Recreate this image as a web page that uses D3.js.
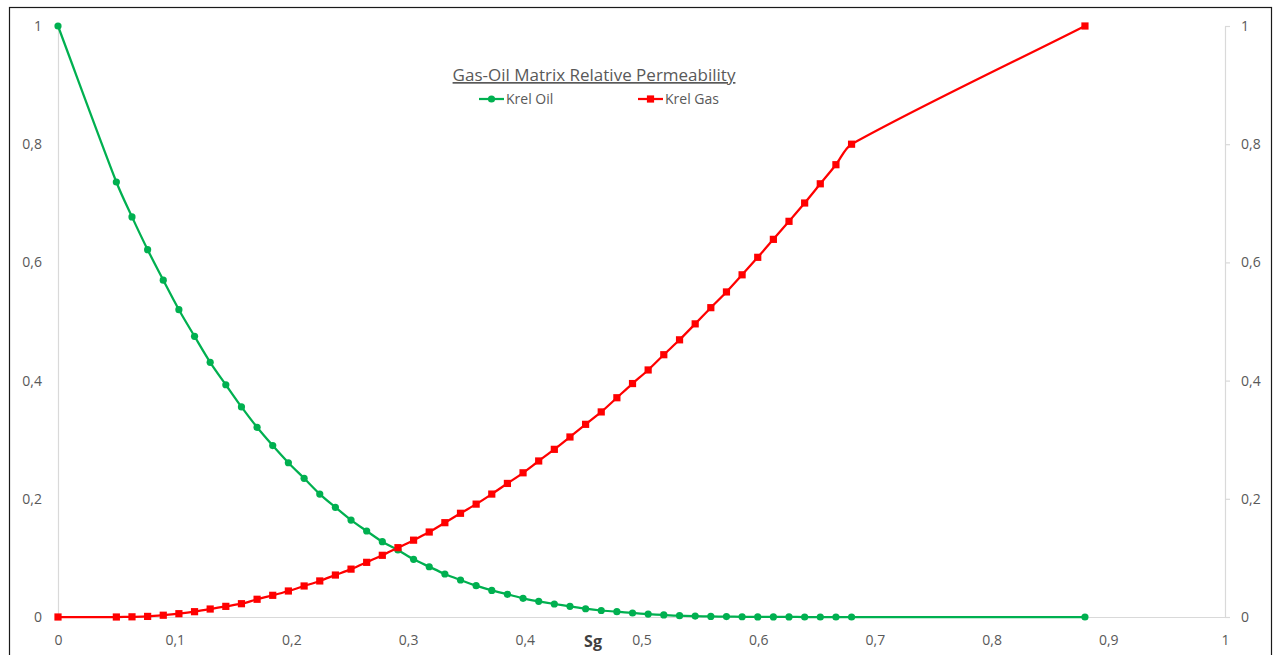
<!DOCTYPE html>
<html>
<head>
<meta charset="utf-8">
<script src="https://cdn.jsdelivr.net/npm/d3@7"></script>
<style>
  html, body { margin: 0; padding: 0; background: #fff; }
  svg { display: block; }
  text { font-family: "Open Sans", "Noto Sans", sans-serif; }
</style>
</head>
<body>
<svg id="chart" width="1278" height="655"></svg>
<script>
// ---- data ----
const title = "Gas-Oil Matrix Relative Permeability";
const xLabel = "Sg";
const seriesNames = ["Krel Oil", "Krel Gas"];

const sg = [0, 0.05, 0.0634, 0.0768, 0.0902, 0.1036, 0.117, 0.1304, 0.1438, 0.1572, 0.1706,
  0.184, 0.1974, 0.2109, 0.2243, 0.2377, 0.2511, 0.2645, 0.2779, 0.2913, 0.3047,
  0.3181, 0.3315, 0.3449, 0.3583, 0.3717, 0.3851, 0.3985, 0.4119, 0.4253, 0.4387,
  0.4521, 0.4655, 0.4789, 0.4923, 0.5057, 0.5191, 0.5326, 0.546, 0.5594, 0.5728,
  0.5862, 0.5996, 0.613, 0.6264, 0.6398, 0.6532, 0.6666, 0.68, 0.88];

const krelOil = [1.0, 0.736, 0.677, 0.6215, 0.570, 0.520, 0.475, 0.431, 0.393, 0.3555, 0.321,
  0.290, 0.261, 0.2347, 0.208, 0.1856, 0.164, 0.1455, 0.1274, 0.1134, 0.0976,
  0.085, 0.0728, 0.0626, 0.053, 0.045, 0.0384, 0.0316, 0.0265, 0.022, 0.018,
  0.014, 0.011, 0.009, 0.0068, 0.005, 0.0035, 0.0022, 0.0015, 0.001, 0.0007,
  0.0004, 0.0002, 0.0001, 0.00005, 0, 0, 0, 0, 0];

const krelGas = [0, 0, 0.0003, 0.001, 0.003, 0.0056, 0.009, 0.0135, 0.018, 0.0225, 0.030,
  0.0367, 0.044, 0.0525, 0.061, 0.071, 0.081, 0.0925, 0.1044, 0.1173, 0.130,
  0.1438, 0.1596, 0.1755, 0.191, 0.208, 0.226, 0.244, 0.264, 0.2837, 0.3046,
  0.326, 0.347, 0.371, 0.395, 0.418, 0.4438, 0.469, 0.496, 0.5234, 0.550,
  0.579, 0.6086, 0.639, 0.6695, 0.7005, 0.733, 0.7653, 0.800, 1.0];

const xTicks = [0, 0.1, 0.2, 0.3, 0.4, 0.5, 0.6, 0.7, 0.8, 0.9, 1];
const yTicks = [0, 0.2, 0.4, 0.6, 0.8, 1];

// ---- drawing ----
const svg = d3.select("#chart");
const green = "#00B050", red = "#FF0000", axisGray = "#D9D9D9", labelGray = "#595959";

const x = d3.scaleLinear().domain([0, 1]).range([58, 1225]);
const y = d3.scaleLinear().domain([0, 1]).range([617, 26]);
const fmt = v => d3.format("~g")(v).replace(".", ",");

// Excel-like smoothed line: tangent direction from neighbours, length scaled per segment
function smoothPath(pts) {
  const p = d3.path();
  const n = pts.length;
  const tan = pts.map((pt, i) => {
    const a = pts[Math.max(0, i - 1)], b = pts[Math.min(n - 1, i + 1)];
    const dx = b[0] - a[0], dy = b[1] - a[1];
    const L = Math.hypot(dx, dy) || 1;
    return [dx / L, dy / L];
  });
  const f = 0.3;
  p.moveTo(pts[0][0], pts[0][1]);
  for (let i = 0; i < n - 1; i++) {
    const P0 = pts[i], P1 = pts[i + 1];
    const d = Math.hypot(P1[0] - P0[0], P1[1] - P0[1]);
    const t0 = i === 0 ? [(P1[0] - P0[0]) / d, (P1[1] - P0[1]) / d] : tan[i];
    const t1 = i + 1 === n - 1 ? [(P1[0] - P0[0]) / d, (P1[1] - P0[1]) / d] : tan[i + 1];
    p.bezierCurveTo(P0[0] + t0[0] * d * f, P0[1] + t0[1] * d * f,
                    P1[0] - t1[0] * d * f, P1[1] - t1[1] * d * f,
                    P1[0], P1[1]);
  }
  return p.toString();
}

// frame
svg.append("rect").attr("x", 9.5).attr("y", 7.5).attr("width", 1262).attr("height", 700)
  .attr("fill", "none").attr("stroke", "#1a1a1a").attr("stroke-width", 1.2);

// left axis (line only + labels)
const gl = svg.append("g").attr("transform", `translate(${x(0)},0)`)
  .call(d3.axisLeft(y).tickValues(yTicks).tickSize(0).tickPadding(16).tickFormat(fmt));
gl.select(".domain").attr("stroke", axisGray).attr("stroke-width", 1.2);
gl.selectAll("text").attr("fill", labelGray).style("font-size", "14px");

// right axis
const gr = svg.append("g").attr("transform", `translate(${x(1)},0)`)
  .call(d3.axisRight(y).tickValues(yTicks).tickSize(5).tickSizeOuter(0).tickPadding(11).tickFormat(fmt));
gr.select(".domain").attr("stroke", axisGray).attr("stroke-width", 1.2);
gr.selectAll(".tick line").attr("stroke", axisGray).attr("stroke-width", 1.2);
gr.selectAll("text").attr("fill", labelGray).style("font-size", "14px");

// bottom axis
const gb = svg.append("g").attr("transform", `translate(0,${y(0)})`)
  .call(d3.axisBottom(x).tickValues(xTicks).tickSize(0).tickPadding(18).tickFormat(fmt));
gb.select(".domain").attr("stroke", axisGray).attr("stroke-width", 1.2);
gb.selectAll("text").attr("fill", labelGray).style("font-size", "14px");

// x label
svg.append("text").attr("x", 593).attr("y", 647).attr("text-anchor", "middle")
  .attr("fill", "#404040").style("font-size", "16px").style("font-weight", "bold").text(xLabel);

// lines
const oilData = sg.map((s, i) => [s, krelOil[i]]);
const gasData = sg.map((s, i) => [s, krelGas[i]]);
const toPx = data => data.map(d => [x(d[0]), y(d[1])]);

svg.append("path").attr("d", smoothPath(toPx(oilData))).attr("fill", "none")
  .attr("stroke", green).attr("stroke-width", 2.25);
svg.append("path").attr("d", smoothPath(toPx(gasData))).attr("fill", "none")
  .attr("stroke", red).attr("stroke-width", 2.25);

// markers
svg.append("g").selectAll("circle").data(oilData).join("circle")
  .attr("cx", d => x(d[0])).attr("cy", d => y(d[1])).attr("r", 3.6).attr("fill", green);
svg.append("g").selectAll("rect").data(gasData).join("rect")
  .attr("x", d => x(d[0]) - 3.6).attr("y", d => y(d[1]) - 3.6)
  .attr("width", 7.2).attr("height", 7.2).attr("fill", red);

// title
svg.append("text").attr("x", 594).attr("y", 81).attr("text-anchor", "middle")
  .attr("fill", labelGray).style("font-size", "17px").style("text-decoration", "underline")
  .text(title);

// legend
const legend = [
  { name: seriesNames[0], color: green, shape: "circle", x0: 479 },
  { name: seriesNames[1], color: red, shape: "square", x0: 638 }
];
legend.forEach(l => {
  const g = svg.append("g");
  g.append("line").attr("x1", l.x0).attr("x2", l.x0 + 25).attr("y1", 99).attr("y2", 99)
    .attr("stroke", l.color).attr("stroke-width", 2.25);
  if (l.shape === "circle") {
    g.append("circle").attr("cx", l.x0 + 12.5).attr("cy", 99).attr("r", 3.6).attr("fill", l.color);
  } else {
    g.append("rect").attr("x", l.x0 + 12.5 - 3.6).attr("y", 99 - 3.6).attr("width", 7.2).attr("height", 7.2).attr("fill", l.color);
  }
  g.append("text").attr("x", l.x0 + 27).attr("y", 104).attr("fill", labelGray)
    .style("font-size", "14px").text(l.name);
});
</script>
</body>
</html>
